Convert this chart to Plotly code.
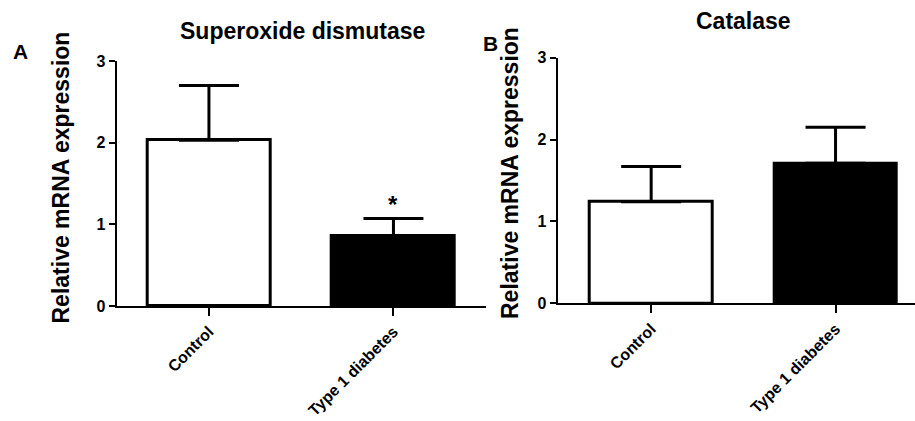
import plotly.graph_objects as go

W, H = 915, 421

categories = ["Control", "Type 1 diabetes"]
sod_mean = [2.03, 0.86]
sod_err = [0.67, 0.21]
cat_mean = [1.24, 1.71]
cat_err = [0.43, 0.44]
bar_colors = ["white", "black"]
yticks = [0, 1, 2, 3]
titles = ["Superoxide dismutase", "Catalase"]
panel_letters = ["A", "B"]
ylabel = "Relative mRNA expression"

FONT = "Liberation Sans, Arial, sans-serif"

def px_x(p):
    return p / W

def px_y(p):
    return 1 - p / H

fig = go.Figure()

for i, (m, e) in enumerate([(sod_mean, sod_err), (cat_mean, cat_err)]):
    sfx = "" if i == 0 else "2"
    fig.add_trace(go.Bar(
        x=categories, y=m,
        width=0.665,
        marker=dict(color=bar_colors, line=dict(color="black", width=3)),
        error_y=dict(type="data", array=e, arrayminus=[0, 0], symmetric=False,
                     color="black", thickness=3, width=30),
        xaxis="x" + sfx, yaxis="y" + sfx,
        showlegend=False, hoverinfo="skip",
    ))

axis_common = dict(
    showline=True, linecolor="black", linewidth=2, showgrid=False, zeroline=False,
    ticks="outside", tickcolor="black", tickwidth=2, automargin=False,
)

xtickfont = dict(family=FONT, size=16, color="black", weight="bold")
ytickfont = dict(family=FONT, size=16, color="black", weight="bold")

fig.update_layout(
    width=W, height=H,
    margin=dict(l=0, r=0, t=0, b=0, autoexpand=False),
    paper_bgcolor="white", plot_bgcolor="white",
    bargap=0,
    xaxis=dict(domain=[px_x(116.7), px_x(485.7)], range=[-0.5, 1.5], type="category",
               anchor="y", ticklen=8, tickangle=-45, tickfont=xtickfont, **axis_common),
    yaxis=dict(domain=[px_y(306), px_y(61)], range=[0, 3], tickvals=yticks,
               anchor="x", ticklen=6, tickfont=ytickfont, **axis_common),
    xaxis2=dict(domain=[px_x(557.7), 1.0], range=[-0.507, 1.431], type="category",
                anchor="y2", ticklen=8, tickangle=-45, tickfont=xtickfont, **axis_common),
    yaxis2=dict(domain=[px_y(303.3), px_y(57.7)], range=[0, 3], tickvals=yticks,
                anchor="x2", ticklen=6, tickfont=ytickfont, **axis_common),
)

ann = []
# panel titles
for t, xc, yc in [(titles[0], 302, 31), (titles[1], 743, 21)]:
    ann.append(dict(text=t, x=px_x(xc), y=px_y(yc), xref="paper", yref="paper",
                    xanchor="center", yanchor="middle", showarrow=False,
                    font=dict(family=FONT, size=23, color="black", weight="bold")))
# panel letters
for t, xc, yc in [(panel_letters[0], 20, 52), (panel_letters[1], 490, 43)]:
    ann.append(dict(text=t, x=px_x(xc), y=px_y(yc), xref="paper", yref="paper",
                    xanchor="center", yanchor="middle", showarrow=False,
                    font=dict(family=FONT, size=21, color="black", weight="bold")))
# y labels
for xc, yc in [(61, 177.5), (510, 173)]:
    ann.append(dict(text=ylabel, x=px_x(xc), y=px_y(yc), xref="paper", yref="paper",
                    xanchor="center", yanchor="middle", textangle=-90, showarrow=False,
                    font=dict(family=FONT, size=23, color="black", weight="bold")))
# significance asterisk
ann.append(dict(text="*", x=categories[1], y=sod_mean[1] + sod_err[1], xref="x", yref="y",
                xanchor="center", yanchor="middle", yshift=14, showarrow=False,
                font=dict(family=FONT, size=24, color="black", weight="bold")))

fig.update_layout(annotations=ann)

fig.write_html(
    "out.html",
    config={"displayModeBar": False},
    post_script="document.body.style.margin='0';document.body.style.overflow='hidden';",
)
